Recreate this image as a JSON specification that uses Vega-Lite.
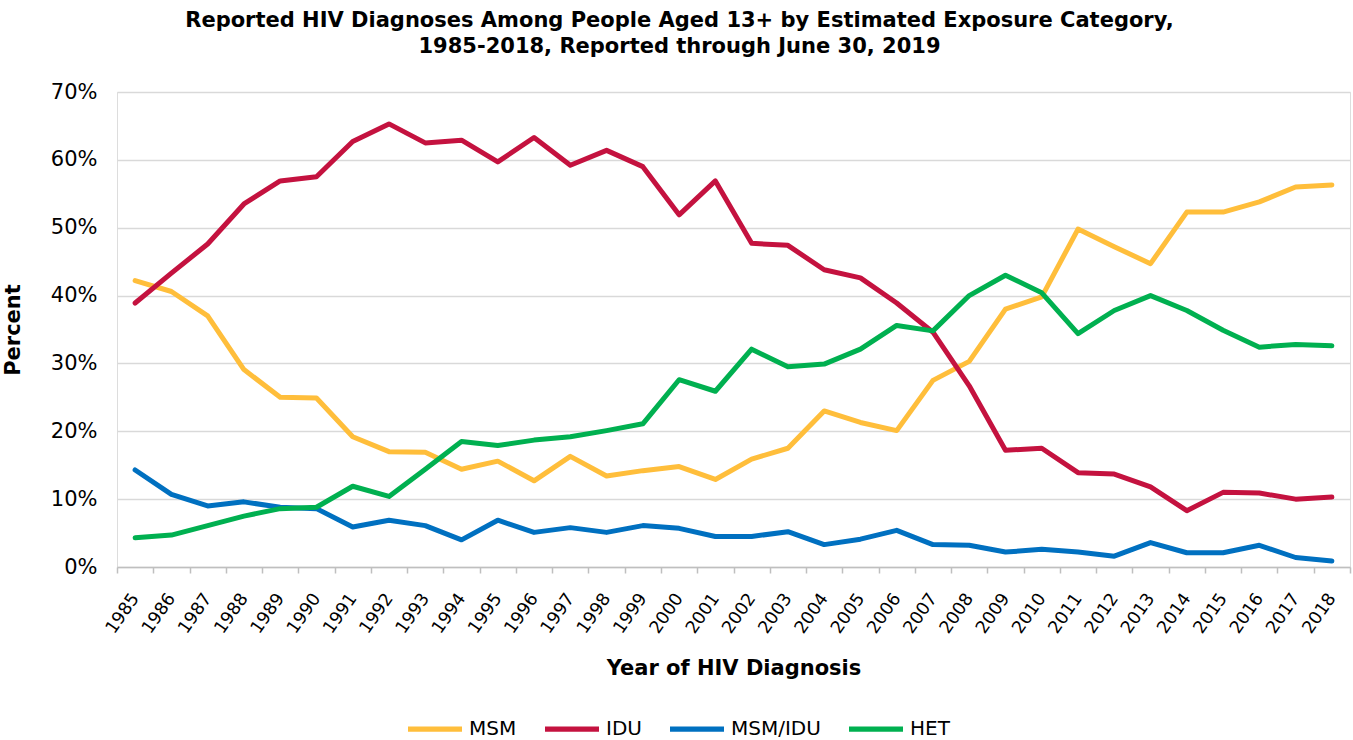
{
  "$schema": "https://vega.github.io/schema/vega-lite/v6.json",
  "width": 1233,
  "height": 475,
  "autosize": {"type": "none"},
  "padding": {"left": 117, "top": 92, "right": 3, "bottom": 173},
  "background": "white",
  "title": {
    "text": ["Reported HIV Diagnoses Among People Aged 13+ by Estimated Exposure Category,", "1985-2018, Reported through June 30, 2019"],
    "font": "DejaVu Sans",
    "fontSize": 21,
    "fontWeight": "bold",
    "color": "black",
    "anchor": "middle",
    "dx": -54,
    "offset": 24,
    "lineHeight": 26
  },
  "datasets": {
    "hiv": [
      {"year": "1985", "cat": "MSM", "pct": 42.2}, {"year": "1986", "cat": "MSM", "pct": 40.6}, {"year": "1987", "cat": "MSM", "pct": 37.0}, {"year": "1988", "cat": "MSM", "pct": 29.1}, {"year": "1989", "cat": "MSM", "pct": 25.0}, {"year": "1990", "cat": "MSM", "pct": 24.9}, {"year": "1991", "cat": "MSM", "pct": 19.2}, {"year": "1992", "cat": "MSM", "pct": 17.0}, {"year": "1993", "cat": "MSM", "pct": 16.9}, {"year": "1994", "cat": "MSM", "pct": 14.4}, {"year": "1995", "cat": "MSM", "pct": 15.6}, {"year": "1996", "cat": "MSM", "pct": 12.7}, {"year": "1997", "cat": "MSM", "pct": 16.3}, {"year": "1998", "cat": "MSM", "pct": 13.4}, {"year": "1999", "cat": "MSM", "pct": 14.2}, {"year": "2000", "cat": "MSM", "pct": 14.8}, {"year": "2001", "cat": "MSM", "pct": 12.9}, {"year": "2002", "cat": "MSM", "pct": 15.9}, {"year": "2003", "cat": "MSM", "pct": 17.5}, {"year": "2004", "cat": "MSM", "pct": 23.0}, {"year": "2005", "cat": "MSM", "pct": 21.3}, {"year": "2006", "cat": "MSM", "pct": 20.1}, {"year": "2007", "cat": "MSM", "pct": 27.5}, {"year": "2008", "cat": "MSM", "pct": 30.3}, {"year": "2009", "cat": "MSM", "pct": 38.0}, {"year": "2010", "cat": "MSM", "pct": 39.8}, {"year": "2011", "cat": "MSM", "pct": 49.8}, {"year": "2012", "cat": "MSM", "pct": 47.2}, {"year": "2013", "cat": "MSM", "pct": 44.7}, {"year": "2014", "cat": "MSM", "pct": 52.3}, {"year": "2015", "cat": "MSM", "pct": 52.3}, {"year": "2016", "cat": "MSM", "pct": 53.8}, {"year": "2017", "cat": "MSM", "pct": 56.0}, {"year": "2018", "cat": "MSM", "pct": 56.3},
      {"year": "1985", "cat": "IDU", "pct": 38.9}, {"year": "1986", "cat": "IDU", "pct": 43.3}, {"year": "1987", "cat": "IDU", "pct": 47.6}, {"year": "1988", "cat": "IDU", "pct": 53.5}, {"year": "1989", "cat": "IDU", "pct": 56.9}, {"year": "1990", "cat": "IDU", "pct": 57.5}, {"year": "1991", "cat": "IDU", "pct": 62.7}, {"year": "1992", "cat": "IDU", "pct": 65.3}, {"year": "1993", "cat": "IDU", "pct": 62.5}, {"year": "1994", "cat": "IDU", "pct": 62.9}, {"year": "1995", "cat": "IDU", "pct": 59.7}, {"year": "1996", "cat": "IDU", "pct": 63.3}, {"year": "1997", "cat": "IDU", "pct": 59.2}, {"year": "1998", "cat": "IDU", "pct": 61.4}, {"year": "1999", "cat": "IDU", "pct": 59.0}, {"year": "2000", "cat": "IDU", "pct": 51.9}, {"year": "2001", "cat": "IDU", "pct": 56.9}, {"year": "2002", "cat": "IDU", "pct": 47.7}, {"year": "2003", "cat": "IDU", "pct": 47.4}, {"year": "2004", "cat": "IDU", "pct": 43.8}, {"year": "2005", "cat": "IDU", "pct": 42.6}, {"year": "2006", "cat": "IDU", "pct": 38.9}, {"year": "2007", "cat": "IDU", "pct": 34.6}, {"year": "2008", "cat": "IDU", "pct": 26.7}, {"year": "2009", "cat": "IDU", "pct": 17.2}, {"year": "2010", "cat": "IDU", "pct": 17.5}, {"year": "2011", "cat": "IDU", "pct": 13.9}, {"year": "2012", "cat": "IDU", "pct": 13.7}, {"year": "2013", "cat": "IDU", "pct": 11.8}, {"year": "2014", "cat": "IDU", "pct": 8.3}, {"year": "2015", "cat": "IDU", "pct": 11.0}, {"year": "2016", "cat": "IDU", "pct": 10.9}, {"year": "2017", "cat": "IDU", "pct": 10.0}, {"year": "2018", "cat": "IDU", "pct": 10.3},
      {"year": "1985", "cat": "MSM/IDU", "pct": 14.3}, {"year": "1986", "cat": "MSM/IDU", "pct": 10.7}, {"year": "1987", "cat": "MSM/IDU", "pct": 9.0}, {"year": "1988", "cat": "MSM/IDU", "pct": 9.6}, {"year": "1989", "cat": "MSM/IDU", "pct": 8.8}, {"year": "1990", "cat": "MSM/IDU", "pct": 8.6}, {"year": "1991", "cat": "MSM/IDU", "pct": 5.9}, {"year": "1992", "cat": "MSM/IDU", "pct": 6.9}, {"year": "1993", "cat": "MSM/IDU", "pct": 6.1}, {"year": "1994", "cat": "MSM/IDU", "pct": 4.0}, {"year": "1995", "cat": "MSM/IDU", "pct": 6.9}, {"year": "1996", "cat": "MSM/IDU", "pct": 5.1}, {"year": "1997", "cat": "MSM/IDU", "pct": 5.8}, {"year": "1998", "cat": "MSM/IDU", "pct": 5.1}, {"year": "1999", "cat": "MSM/IDU", "pct": 6.1}, {"year": "2000", "cat": "MSM/IDU", "pct": 5.7}, {"year": "2001", "cat": "MSM/IDU", "pct": 4.5}, {"year": "2002", "cat": "MSM/IDU", "pct": 4.5}, {"year": "2003", "cat": "MSM/IDU", "pct": 5.2}, {"year": "2004", "cat": "MSM/IDU", "pct": 3.3}, {"year": "2005", "cat": "MSM/IDU", "pct": 4.1}, {"year": "2006", "cat": "MSM/IDU", "pct": 5.4}, {"year": "2007", "cat": "MSM/IDU", "pct": 3.3}, {"year": "2008", "cat": "MSM/IDU", "pct": 3.2}, {"year": "2009", "cat": "MSM/IDU", "pct": 2.2}, {"year": "2010", "cat": "MSM/IDU", "pct": 2.6}, {"year": "2011", "cat": "MSM/IDU", "pct": 2.2}, {"year": "2012", "cat": "MSM/IDU", "pct": 1.6}, {"year": "2013", "cat": "MSM/IDU", "pct": 3.6}, {"year": "2014", "cat": "MSM/IDU", "pct": 2.1}, {"year": "2015", "cat": "MSM/IDU", "pct": 2.1}, {"year": "2016", "cat": "MSM/IDU", "pct": 3.2}, {"year": "2017", "cat": "MSM/IDU", "pct": 1.4}, {"year": "2018", "cat": "MSM/IDU", "pct": 0.9},
      {"year": "1985", "cat": "HET", "pct": 4.3}, {"year": "1986", "cat": "HET", "pct": 4.7}, {"year": "1987", "cat": "HET", "pct": 6.1}, {"year": "1988", "cat": "HET", "pct": 7.5}, {"year": "1989", "cat": "HET", "pct": 8.6}, {"year": "1990", "cat": "HET", "pct": 8.8}, {"year": "1991", "cat": "HET", "pct": 11.9}, {"year": "1992", "cat": "HET", "pct": 10.4}, {"year": "1993", "cat": "HET", "pct": 14.4}, {"year": "1994", "cat": "HET", "pct": 18.5}, {"year": "1995", "cat": "HET", "pct": 17.9}, {"year": "1996", "cat": "HET", "pct": 18.7}, {"year": "1997", "cat": "HET", "pct": 19.2}, {"year": "1998", "cat": "HET", "pct": 20.1}, {"year": "1999", "cat": "HET", "pct": 21.1}, {"year": "2000", "cat": "HET", "pct": 27.6}, {"year": "2001", "cat": "HET", "pct": 25.9}, {"year": "2002", "cat": "HET", "pct": 32.1}, {"year": "2003", "cat": "HET", "pct": 29.5}, {"year": "2004", "cat": "HET", "pct": 29.9}, {"year": "2005", "cat": "HET", "pct": 32.1}, {"year": "2006", "cat": "HET", "pct": 35.6}, {"year": "2007", "cat": "HET", "pct": 34.8}, {"year": "2008", "cat": "HET", "pct": 40.0}, {"year": "2009", "cat": "HET", "pct": 43.0}, {"year": "2010", "cat": "HET", "pct": 40.4}, {"year": "2011", "cat": "HET", "pct": 34.4}, {"year": "2012", "cat": "HET", "pct": 37.8}, {"year": "2013", "cat": "HET", "pct": 40.0}, {"year": "2014", "cat": "HET", "pct": 37.8}, {"year": "2015", "cat": "HET", "pct": 34.9}, {"year": "2016", "cat": "HET", "pct": 32.4}, {"year": "2017", "cat": "HET", "pct": 32.8}, {"year": "2018", "cat": "HET", "pct": 32.6}
    ]
  },
  "data": {"name": "hiv"},
  "mark": {"type": "line", "strokeWidth": 5, "strokeCap": "round", "strokeJoin": "round"},
  "encoding": {
    "x": {
      "field": "year",
      "type": "ordinal",
      "bandPosition": 0.5,
      "scale": {"type": "band", "paddingInner": 0, "paddingOuter": 0},
      "axis": {
        "title": "Year of HIV Diagnosis",
        "titleFont": "DejaVu Sans",
        "titleFontSize": 21,
        "titleFontWeight": "bold",
        "titleColor": "black",
        "titlePadding": 21,
        "labelFont": "DejaVu Sans",
        "labelFontSize": 17.5,
        "labelColor": "black",
        "labelAngle": -55,
        "labelPadding": 22,
        "tickBand": "extent",
        "tickColor": "#BFBFBF",
        "tickWidth": 1.5,
        "tickSize": 6,
        "domainColor": "#BFBFBF",
        "domainWidth": 1.5,
        "grid": false
      }
    },
    "y": {
      "field": "pct",
      "type": "quantitative",
      "scale": {"domain": [0, 70]},
      "axis": {
        "title": "Percent",
        "titleFont": "DejaVu Sans",
        "titleFontSize": 21,
        "titleFontWeight": "bold",
        "titleColor": "black",
        "titlePadding": 27,
        "values": [0, 10, 20, 30, 40, 50, 60, 70],
        "labelExpr": "datum.value + '%'",
        "labelFont": "DejaVu Sans",
        "labelFontSize": 21,
        "labelColor": "black",
        "labelPadding": 20,
        "domain": false,
        "ticks": false,
        "grid": true,
        "gridColor": "#D9D9D9",
        "gridWidth": 1.5
      }
    },
    "color": {
      "field": "cat",
      "type": "nominal",
      "scale": {"domain": ["MSM", "IDU", "MSM/IDU", "HET"], "range": ["#FFBE3B", "#C4123F", "#0070C0", "#00B050"]},
      "legend": {
        "title": null,
        "orient": "none",
        "direction": "horizontal",
        "legendX": 288,
        "legendY": 607,
        "symbolType": "stroke",
        "symbolSize": 2916,
        "symbolStrokeWidth": 5.3,
        "labelFont": "DejaVu Sans",
        "labelFontSize": 20,
        "labelColor": "black",
        "labelOffset": 4,
        "columnPadding": 17
      }
    }
  }
}
